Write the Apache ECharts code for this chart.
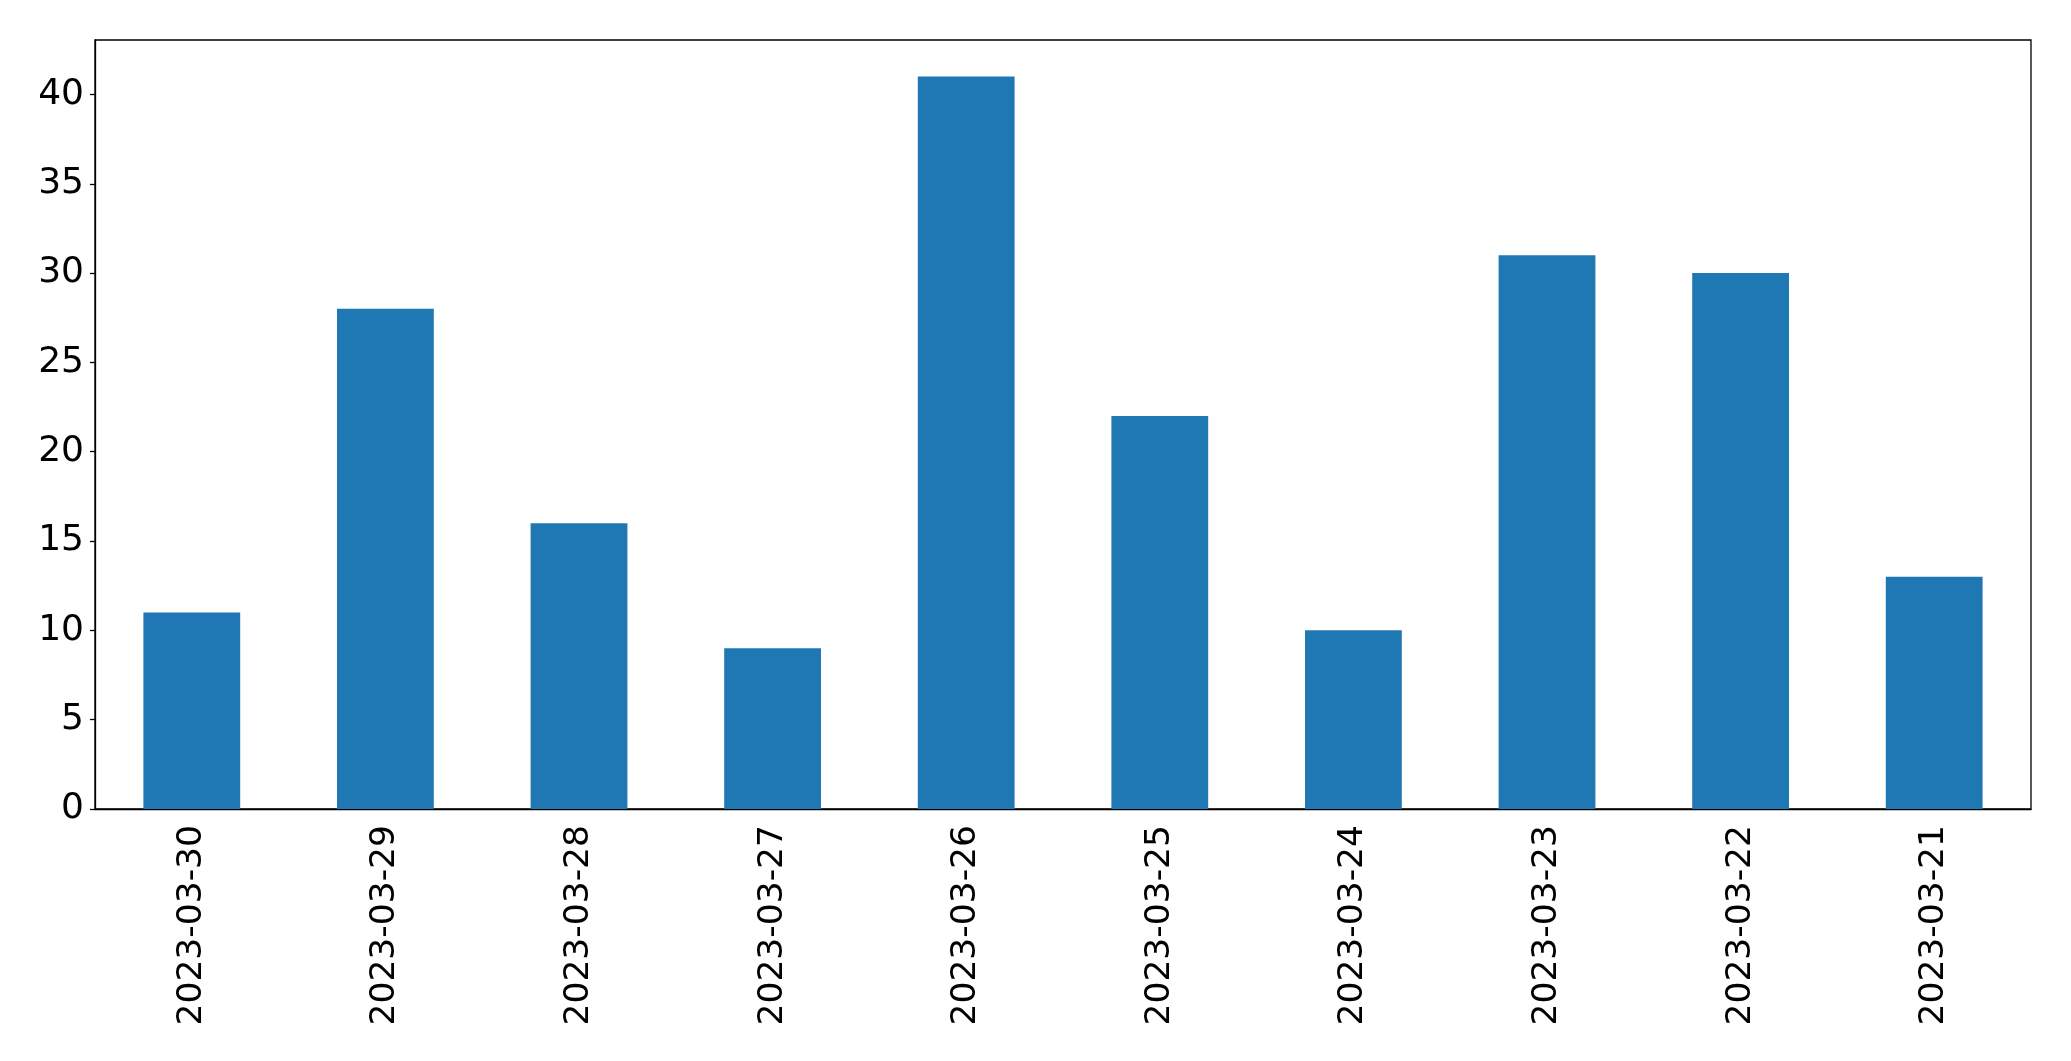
<!DOCTYPE html>
<html>
<head>
<meta charset="utf-8">
<script src="https://cdn.jsdelivr.net/npm/echarts@6/dist/echarts.min.js"></script>
<style>
  html, body { margin: 0; padding: 0; background: #fff; }
  #main { width: 2071px; height: 1061px; }
</style>
</head>
<body>
<div id="main"></div>
<script>
  // data
  var dates = ['2023-03-30', '2023-03-29', '2023-03-28', '2023-03-27', '2023-03-26',
               '2023-03-25', '2023-03-24', '2023-03-23', '2023-03-22', '2023-03-21'];
  var counts = [11, 28, 16, 9, 41, 22, 10, 31, 30, 13];
  var yTicks = [0, 5, 10, 15, 20, 25, 30, 35, 40];

  var myChart = echarts.init(document.getElementById('main'));
  var font = 'DejaVu Sans';

  var option = {
    animation: false,
    backgroundColor: '#fff',
    grid: {
      left: 95, right: 40, top: 40, bottom: 252,
      show: true, borderColor: '#000', borderWidth: 1.3
    },
    xAxis: {
      type: 'category',
      data: dates,
      axisLine: { lineStyle: { color: '#000', width: 1.3 } },
      axisTick: { alignWithLabel: true, length: 6, lineStyle: { color: '#000', width: 1.3 } },
      axisLabel: { rotate: 90, margin: 16, fontSize: 34.5, color: '#000', fontFamily: font }
    },
    yAxis: {
      type: 'value',
      min: 0,
      max: 43.05,
      interval: 5,
      splitLine: { show: false },
      axisLine: { show: true, lineStyle: { color: '#000', width: 1.3 } },
      axisTick: { show: true, length: 5, customValues: yTicks, lineStyle: { color: '#000', width: 1.3 } },
      axisLabel: { margin: 11, fontSize: 36, color: '#000', fontFamily: font, customValues: yTicks }
    },
    series: [{
      type: 'bar',
      data: counts,
      barWidth: '50%',
      itemStyle: { color: '#1f77b4' }
    }]
  };

  myChart.setOption(option);
</script>
</body>
</html>
